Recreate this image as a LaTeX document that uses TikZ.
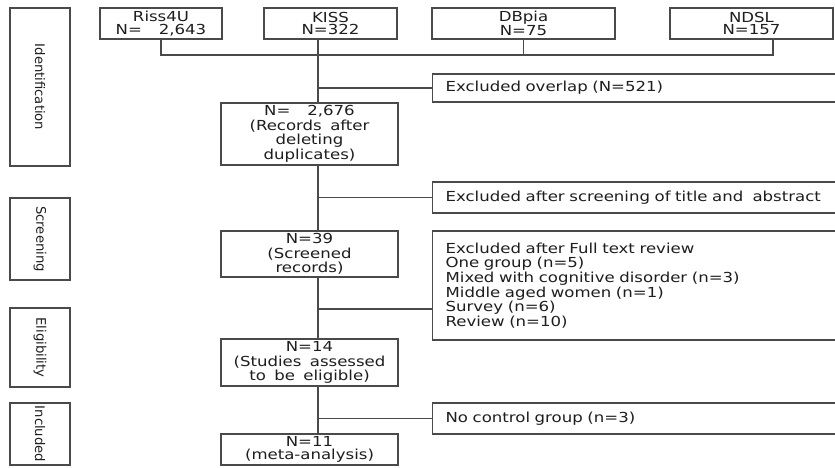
\documentclass[tikz,border=0pt]{standalone}
\usepackage{fontspec}
\setmainfont{DejaVu Sans}[WordSpace={1.6}, FakeStretch=1.2]
\newfontfamily\stagefam{DejaVu Sans}
\definecolor{linec}{HTML}{4A4A4A}
\definecolor{txtc}{HTML}{1E1E1E}
\newcommand{\boxfont}{\fontsize{13.8}{14.6}\selectfont}
\newcommand{\topfont}{\fontsize{13.8}{12.6}\selectfont}
\newcommand{\stagefont}{\stagefam\fontsize{13.2}{14}\selectfont}
\begin{document}
\begin{tikzpicture}[x=1pt,y=-1pt,
  every node/.style={text=txtc},
  box/.style={draw=linec, line width=1.2pt, fill=white, inner sep=0pt, align=center, font=\boxfont},
  exbox/.style={box, anchor=west, align=left, text width=395pt, inner xsep=13pt, minimum width=421pt},
  stage/.style={draw=linec, line width=1.2pt, inner sep=0pt, minimum width=60pt},
  stagetxt/.style={rotate=-90, inner sep=0pt, font=\stagefont},
  conn/.style={draw=linec, line width=1.2pt}]
\useasboundingbox (0,0) rectangle (835,467);
\clip (0,0) rectangle (835,467);
% stage labels
\node[stage, minimum height=158pt] (ident) at (40,87) {};
\node[stagetxt] (identl) at (ident.center) {Identification};
\node[stage, minimum height=82pt] (scr) at (40,239) {};
\node[stagetxt] (scrl) at (scr.center) {Screening};
\node[stage, minimum height=79pt] (elig) at (40,347.5) {};
\node[stagetxt] (eligl) at (elig.center) {Eligibility};
\node[stage, minimum height=62pt] (incl) at (40,434) {};
\node[stagetxt] (incll) at (incl.center) {Included};
% sources
\node[box, font=\topfont, minimum width=122pt, minimum height=31pt] (riss) at (161,23.5) {Riss4U\\N=\ \ 2,643};
\node[box, font=\topfont, minimum width=133pt, minimum height=31pt] (kiss) at (330.5,23.5) {KISS\\N=322};
\node[box, font=\topfont, minimum width=183pt, minimum height=31pt] (dbpia) at (523.5,23.5) {DBpia\\N=75};
\node[box, font=\topfont, minimum width=163pt, minimum height=31pt] (ndsl) at (751.5,23.5) {NDSL\\N=157};
% main column
\node[box, minimum width=177pt, minimum height=62pt] (r1) at (309.5,134) {N=\ \ 2,676\\(Records after\\deleting\\duplicates)};
\node[box, minimum width=177pt, minimum height=46pt] (r2) at (309.5,254) {N=39\\(Screened\\records)};
\node[box, minimum width=177pt, minimum height=47pt] (r3) at (309.5,362.5) {N=14\\(Studies assessed\\to be eligible)};
\node[box, font=\topfont, minimum width=177pt, minimum height=31pt] (r4) at (309.5,449.5) {N=11\\(meta-analysis)};
% exclusion boxes
\node[exbox, minimum height=28pt] (ex1) at (432,88) {Excluded overlap (N=521)};
\node[exbox, minimum height=31pt] (ex2) at (432,197.5) {Excluded after screening of title and \ abstract};
\node[exbox, minimum height=109pt] (ex3) at (432,285.5) {Excluded after Full text review\\One group (n=5)\\Mixed with cognitive disorder (n=3)\\Middle aged women (n=1)\\Survey (n=6)\\Review (n=10)};
\node[exbox, minimum height=31pt] (ex4) at (432,418.5) {No control group (n=3)};
% junction coordinates
\coordinate (j) at (318,55);
\coordinate (nstem) at (773,39);
\coordinate (b3) at (318,309);
% connectors
\draw[conn] (riss.south) -- (riss.south |- j) -- (j -| nstem) -- (nstem);
\draw[conn] (dbpia.south) -- (dbpia.south |- j);
\draw[conn] (kiss.south -| j) -- (r1.north -| j);
\draw[conn] (r1.south -| j) -- (r2.north -| j);
\draw[conn] (r2.south -| j) -- (r3.north -| j);
\draw[conn] (r3.south -| j) -- (r4.north -| j);
\draw[conn] (ex1.west -| j) -- (ex1.west);
\draw[conn] (ex2.west -| j) -- (ex2.west);
\draw[conn] (b3) -- (ex3.west |- b3);
\draw[conn] (ex4.west -| j) -- (ex4.west);
\end{tikzpicture}
\end{document}
